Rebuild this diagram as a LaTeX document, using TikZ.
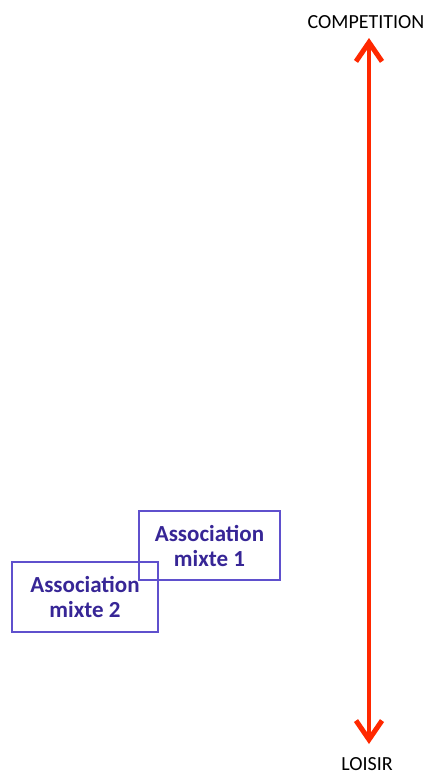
\documentclass[tikz,border=0pt]{standalone}
\usepackage{fontspec}
\setmainfont{Carlito}
\usetikzlibrary{arrows.meta}
\definecolor{boxline}{RGB}{95,80,205}
\definecolor{boxtext}{RGB}{55,38,150}
\definecolor{axisred}{RGB}{255,40,0}
\tikzset{
  assoc/.style={draw=boxline, line width=1.3pt, minimum width=#1, align=center,
    text=boxtext, font=\fontsize{23}{25}\selectfont\bfseries, inner sep=0pt},
  axislabel/.style={font=\fontsize{20}{22}\selectfont, text=black, inner sep=0pt},
  axisarrow/.style={draw=axisred, line width=4.5pt,
    {Straight Barb[length=19pt,width=26pt,line width=5pt]}-{Straight Barb[length=19pt,width=26pt,line width=5pt]}}
}
\begin{document}
\begin{tikzpicture}[x=1pt,y=1pt]
\useasboundingbox (0,0) rectangle (428,-774);
\node[axislabel] (comp) at (366,-22) {COMPETITION};
\node[axislabel] (loisir) at (367,-764) {LOISIR};
\coordinate (top) at (369,-38);
\coordinate (bot) at (369,-744);
\draw[axisarrow] (bot) -- (top);
\node[assoc=141pt, minimum height=69pt] (a1) at (209.5,-545.5) {Association\\mixte 1};
\node[assoc=146pt, minimum height=70pt] (a2) at (85,-597) {Association\\mixte 2};
\end{tikzpicture}
\end{document}
